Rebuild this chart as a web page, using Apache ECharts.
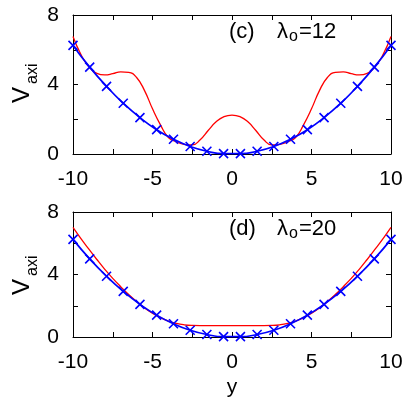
<!DOCTYPE html>
<html>
<head>
<meta charset="utf-8">
<script src="https://cdn.jsdelivr.net/npm/echarts@6/dist/echarts.min.js"></script>
<style>
html,body{margin:0;padding:0;background:#fff;}
#chart{width:407px;height:405px;}
</style>
</head>
<body>
<div id="chart"></div>
<script>
// ---- data ----
const crossX = [-10, -8.95, -7.89, -6.84, -5.79, -4.74, -3.68, -2.63, -1.58, -0.53,
                0.53, 1.58, 2.63, 3.68, 4.74, 5.79, 6.84, 7.89, 8.95, 10];
const harmonicV = [6.25, 5.0, 3.89, 2.92, 2.09, 1.40, 0.85, 0.43, 0.16, 0.02,
                   0.02, 0.16, 0.43, 0.85, 1.40, 2.09, 2.92, 3.89, 5.0, 6.25];
const redX = [-10, -9.5, -9, -8.5, -8, -7.5, -7, -6.5, -6, -5.5, -5, -4.5, -4, -3.5, -3, -2.5, -2, -1.5, -1, -0.5,
              0, 0.5, 1, 1.5, 2, 2.5, 3, 3.5, 4, 4.5, 5, 5.5, 6, 6.5, 7, 7.5, 8, 8.5, 9, 9.5, 10];
const redC = [6.76, 5.72, 5.02, 4.64, 4.55, 4.62, 4.73, 4.70, 4.40, 3.65, 2.60, 1.68, 0.95, 0.70, 0.55, 0.52, 0.82, 1.35, 1.85, 2.15,
              2.24, 2.15, 1.85, 1.35, 0.82, 0.52, 0.55, 0.70, 0.95, 1.68, 2.60, 3.65, 4.40, 4.70, 4.73, 4.62, 4.55, 4.64, 5.02, 5.72, 6.76];
const redD = [7.02, 6.30, 5.62, 4.96, 4.33, 3.75, 3.22, 2.72, 2.27, 1.86, 1.52, 1.24, 1.02, 0.87, 0.78, 0.74, 0.73, 0.73, 0.73, 0.73,
              0.73, 0.73, 0.73, 0.73, 0.73, 0.74, 0.78, 0.87, 1.02, 1.24, 1.52, 1.86, 2.27, 2.72, 3.22, 3.75, 4.33, 4.96, 5.62, 6.30, 7.02];
const xTicks = [-10, -5, 0, 5, 10];
const yTicks = [0, 4, 8];
const panelLabels = ['(c)', '(d)'];
const lambdaValues = ['=12', '=20'];

// ---- chart ----
const FONT = 'Liberation Sans, Arial, Helvetica, sans-serif';
const pairs = (xs, ys) => xs.map((x, i) => [x, ys[i]]);
const CROSS = 'path://M0,0L10,10M10,0L0,10';

function xAxisCfg(gi, pos, labels, name) {
  return {
    type: 'value', gridIndex: gi, position: pos, min: -10, max: 10, interval: 2.5,
    name: name || '', nameLocation: 'middle', nameGap: 40,
    nameTextStyle: {fontSize: 21, color: '#000', fontFamily: FONT},
    axisLine: {show: true, onZero: false, lineStyle: {color: '#000', width: 1}},
    axisTick: {show: true, inside: true, length: 5, lineStyle: {color: '#000', width: 1}},
    splitLine: {show: false},
    axisLabel: {show: labels, showMinLabel: true, showMaxLabel: true, margin: 15,
      fontSize: 21, color: '#000', fontFamily: FONT,
      formatter: v => xTicks.includes(v) ? String(v) : ''}
  };
}
function yAxisCfg(gi, pos, labels) {
  return {
    type: 'value', gridIndex: gi, position: pos, min: 0, max: 8, interval: 2,
    axisLine: {show: true, onZero: false, lineStyle: {color: '#000', width: 1}},
    axisTick: {show: true, inside: true, length: 5, lineStyle: {color: '#000', width: 1}},
    splitLine: {show: false},
    axisLabel: {show: labels, showMinLabel: true, showMaxLabel: true, margin: 14,
      fontSize: 21, color: '#000', fontFamily: FONT,
      formatter: v => yTicks.includes(v) ? String(v) : ''}
  };
}
function redSeries(ai, ys) {
  return {type: 'line', xAxisIndex: ai, yAxisIndex: ai, data: pairs(redX, ys), smooth: true,
    showSymbol: false, lineStyle: {color: '#ff0000', width: 1.3}, z: 2, silent: true};
}
function blueSeries(ai) {
  return {type: 'line', xAxisIndex: ai, yAxisIndex: ai, data: pairs(crossX, harmonicV), smooth: true,
    symbol: CROSS, symbolSize: 9, showSymbol: true,
    itemStyle: {color: '#0000ff', borderColor: '#0000ff', borderWidth: 1.6},
    lineStyle: {color: '#0000ff', width: 1.7}, z: 3, silent: true};
}
function titleTexts(dy, i) {
  const st = (t, size) => ({text: t, font: size + 'px ' + FONT, fill: '#000', textAlign: 'left', textVerticalAlign: 'middle', verticalAlign: 'middle'});
  return [
    {type: 'text', x: 229, y: 31.5 + dy, style: st(panelLabels[i], 22)},
    {type: 'text', x: 277, y: 31.5 + dy, style: st('λ', 22)},
    {type: 'text', x: 289, y: 37 + dy, style: st('o', 16)},
    {type: 'text', x: 299, y: 31.5 + dy, style: st(lambdaValues[i], 22)}
  ];
}
function vLabel(gy) {
  const st = (t, size) => ({text: t, font: size + 'px ' + FONT, fill: '#000', textAlign: 'left', textVerticalAlign: 'middle', verticalAlign: 'middle'});
  return {type: 'group', x: 22, y: gy, rotation: Math.PI / 2, children: [
    {type: 'text', x: 0, y: 0, style: st('V', 24)},
    {type: 'text', x: 19, y: 11, style: st('axi', 16)}
  ]};
}

const chart = echarts.init(document.getElementById('chart'), null, {renderer: 'canvas'});
chart.setOption({
  animation: false,
  backgroundColor: '#fff',
  grid: [
    {left: 73, right: 16, top: 15, height: 139},
    {left: 73, right: 16, top: 212, height: 125}
  ],
  xAxis: [
    xAxisCfg(0, 'bottom', true),
    xAxisCfg(1, 'bottom', true, 'y'),
    xAxisCfg(0, 'top', false),
    xAxisCfg(1, 'top', false)
  ],
  yAxis: [
    yAxisCfg(0, 'left', true),
    yAxisCfg(1, 'left', true),
    yAxisCfg(0, 'right', false),
    yAxisCfg(1, 'right', false)
  ],
  series: [
    redSeries(0, redC), blueSeries(0),
    redSeries(1, redD), blueSeries(1)
  ],
  graphic: [].concat(titleTexts(0, 0), titleTexts(197, 1), [vLabel(103), vLabel(295)])
});
</script>
</body>
</html>
